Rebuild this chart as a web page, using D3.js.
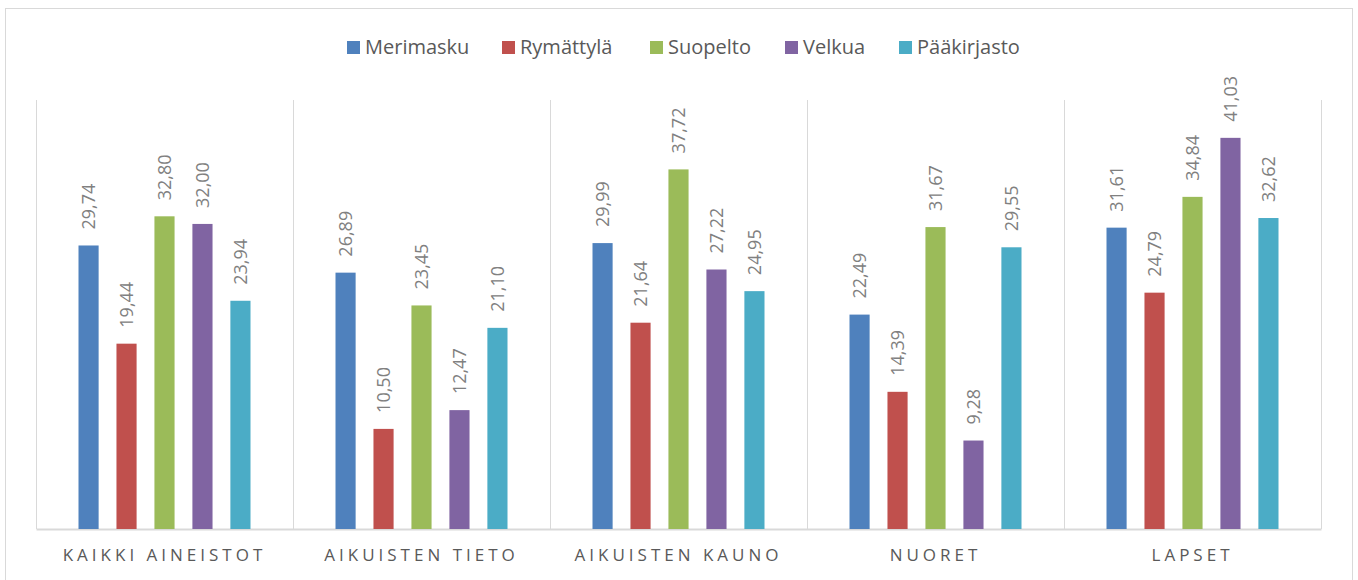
<!DOCTYPE html>
<html>
<head>
<meta charset="utf-8">
<script src="https://cdn.jsdelivr.net/npm/d3@7"></script>
<style>
  body { margin: 0; background: #fff; }
  text { font-family: "Open Sans", "Noto Sans", sans-serif; }
</style>
</head>
<body>
<div class="chart"></div>
<script>
var categories = ["KAIKKI AINEISTOT", "AIKUISTEN TIETO", "AIKUISTEN KAUNO", "NUORET", "LAPSET"];
var seriesNames = ["Merimasku", "Rymättylä", "Suopelto", "Velkua", "Pääkirjasto"];
var merimasku = [29.74, 26.89, 29.99, 22.49, 31.61];
var rymattyla = [19.44, 10.50, 21.64, 14.39, 24.79];
var suopelto = [32.80, 23.45, 37.72, 31.67, 34.84];
var velkua = [32.00, 12.47, 27.22, 9.28, 41.03];
var paakirjasto = [23.94, 21.10, 24.95, 29.55, 32.62];
var seriesValues = [merimasku, rymattyla, suopelto, velkua, paakirjasto];
var colors = ["#4F81BD", "#C0504D", "#9BBB59", "#8064A2", "#4BACC6"];

var svgWidth = 1358;
var svgHeight = 580;
var margin = { top: 100, right: 37, bottom: 51, left: 36 };
var width = svgWidth - margin.left - margin.right;
var height = svgHeight - margin.top - margin.bottom;

var root = d3.select(".chart")
  .append("svg")
  .attr("width", svgWidth)
  .attr("height", svgHeight);

// outer frame
root.append("rect")
  .attr("x", 5.5).attr("y", 8.5)
  .attr("width", svgWidth - 11).attr("height", svgHeight)
  .attr("fill", "none")
  .attr("stroke", "#d9d9d9");

var chart = root.append("g")
  .attr("transform", "translate(" + margin.left + "," + margin.top + ")");

var x0 = d3.scaleBand().domain(categories).range([0, width]);
var x1 = d3.scaleBand().domain(seriesNames).range([42.5, x0.bandwidth() - 42.5]).paddingInner(0.47);
var y = d3.scaleLinear().domain([0, 45]).range([height, 0]);

// category separators
chart.append("g").selectAll("line")
  .data(d3.range(categories.length + 1))
  .enter().append("line")
  .attr("x1", function(i) { return Math.round(i * x0.bandwidth()) + 0.5; })
  .attr("x2", function(i) { return Math.round(i * x0.bandwidth()) + 0.5; })
  .attr("y1", 0).attr("y2", height)
  .attr("stroke", "#d9d9d9");

// bottom axis
var bottomAxis = d3.axisBottom(x0).tickSize(0).tickPadding(20);
var xAxis = chart.append("g")
  .attr("transform", "translate(0," + height + ")")
  .call(bottomAxis);
xAxis.select(".domain").attr("stroke", "#d9d9d9").attr("stroke-width", 2);
xAxis.selectAll("text")
  .attr("font-size", 17)
  .attr("fill", "#595959")
  .style("letter-spacing", "4px")
  .style("font-family", "'Open Sans', sans-serif");

var groups = chart.append("g").selectAll("g")
  .data(categories)
  .enter().append("g")
  .attr("transform", function(d) { return "translate(" + x0(d) + ",0)"; });

groups.each(function(cat, ci) {
  var g = d3.select(this);
  seriesNames.forEach(function(s, si) {
    var v = seriesValues[si][ci];
    g.append("rect")
      .attr("x", x1(s))
      .attr("y", y(v))
      .attr("width", x1.bandwidth())
      .attr("height", height - y(v))
      .attr("fill", colors[si]);
    g.append("text")
      .attr("transform", "translate(" + (x1(s) + x1.bandwidth() / 2 + 6.5) + "," + (y(v) - 16) + ") rotate(-90)")
      .attr("font-size", 18)
      .attr("fill", "#808080")
      .text(v.toFixed(2).replace(".", ","));
  });
});

// legend
var legendX = [347, 502, 650, 785, 899];
var legend = root.append("g").selectAll("g")
  .data(seriesNames)
  .enter().append("g")
  .attr("transform", function(d, i) { return "translate(" + legendX[i] + ",41)"; });
legend.append("rect")
  .attr("width", 13).attr("height", 13)
  .attr("fill", function(d, i) { return colors[i]; });
legend.append("text")
  .attr("x", 18).attr("y", 13)
  .attr("font-size", 20)
  .attr("fill", "#595959")
  .text(function(d) { return d; });
</script>
</body>
</html>
